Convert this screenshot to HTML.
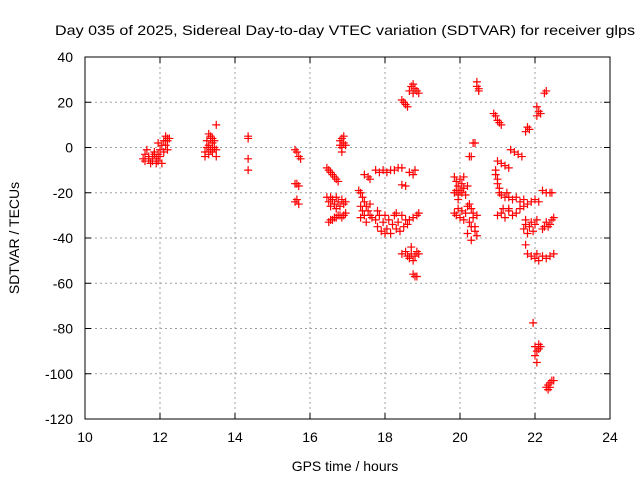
<!DOCTYPE html>
<html><head><meta charset="utf-8"><style>
body{margin:0;background:#fff;}
svg{display:block;font-family:"Liberation Sans",sans-serif;}
</style></head><body>
<svg id="chart" width="640" height="480" viewBox="0 0 640 480">
<rect width="640" height="480" fill="#fff"/>
<g id="grid"></g>
<g id="marks"></g>
<rect x="85" y="57" width="525" height="362" fill="none" stroke="#000" stroke-width="1"/>
<g id="ticks"></g>
<text x="55" y="35" font-size="14" textLength="580" lengthAdjust="spacingAndGlyphs">Day 035 of 2025, Sidereal Day-to-day VTEC variation (SDTVAR) for receiver glps</text>
<text x="345" y="471" font-size="14" text-anchor="middle">GPS time / hours</text>
<text x="0" y="0" font-size="14" text-anchor="middle" transform="translate(19,238) rotate(-90)">SDTVAR / TECUs</text>
</svg>
<script>
const xTicks=[10,12,14,16,18,20,22,24];
const yTicks=[40,20,0,-20,-40,-60,-80,-100,-120];
const sdtvar=[
[11.55,-5],[11.6,-3],[11.6,-6],[11.65,-1],[11.7,-5],[11.75,-7],[11.8,-4],[11.8,-6],[11.85,-2],[11.9,-5],[11.9,-7],[11.95,-3],[11.95,-6],[12.0,-1],[12.0,-4],[12.05,-7],[12.05,1],[12.1,-2],[12.1,3],[11.95,2],[12.15,1],[12.15,5],[12.2,3],[12.2,4],[12.25,4],[12.2,-1],[11.85,-3],[11.7,-4],
[13.2,-2],[13.2,-4],[13.25,0],[13.25,3],[13.3,6],[13.3,1],[13.3,-3],[13.35,4],[13.35,-1],[13.4,2],[13.4,-2],[13.45,0],[13.45,3],[13.5,-4],[13.5,-1],[13.5,10],[13.35,5],[13.4,4],
[14.35,5],[14.35,4],[14.35,-5],[14.35,-10],
[15.6,-1],[15.65,-2],[15.7,-4],[15.75,-5],[15.6,-16],[15.65,-16],[15.7,-17],[15.6,-24],[15.65,-23],[15.7,-25],
[16.45,-9],[16.5,-10],[16.55,-11],[16.6,-12],[16.65,-13],[16.7,-14],[16.75,-15],
[16.45,-22],[16.5,-24],[16.55,-22],[16.6,-23],[16.65,-25],[16.7,-22],[16.75,-24],[16.8,-26],[16.85,-23],[16.9,-25],[16.95,-24],[16.55,-26],[16.7,-27],
[16.5,-33],[16.55,-32],[16.6,-32],[16.65,-31],[16.7,-31],[16.75,-30],[16.8,-30],[16.85,-31],[16.9,-30],[16.95,-29],
[16.8,3],[16.85,0],[16.9,2],[16.85,4],[16.95,1],[16.85,-2],[16.9,5],[16.8,1],
[17.3,-19],[17.35,-20],[17.4,-22],[17.45,-24],[17.35,-26],[17.4,-28],[17.45,-30],[17.5,-26],[17.55,-28],[17.6,-30],[17.35,-31],[17.5,-33],[17.6,-25],[17.65,-31],[17.45,-12],[17.55,-13],[17.6,-14],
[17.75,-10],[17.85,-11],[17.95,-10],[18.05,-11],[18.15,-10],[18.25,-10],[18.35,-9],[18.45,-9],[18.65,-11],[18.75,-12],[18.8,-10],[18.45,-16.5],[18.55,-17],
[17.75,-32],[17.8,-35],[17.85,-30],[17.9,-37],[17.95,-33],[18.0,-30],[18.05,-36],[18.1,-32],[18.15,-38],[18.2,-34],[18.25,-30],[18.3,-36],[18.35,-33],[18.4,-37],[18.45,-30],[18.5,-35],[18.55,-32],[18.6,-34],[17.8,-28],[18.0,-38],[18.3,-29],
[18.65,-32],[18.75,-31],[18.85,-30],[18.9,-29],
[18.45,21],[18.5,20],[18.55,19],[18.6,18],[18.65,25],[18.7,27],[18.75,28],[18.8,26],[18.85,25],[18.9,24],[18.75,24],
[18.45,-47],[18.55,-46],[18.6,-48],[18.65,-49],[18.7,-47],[18.75,-50],[18.8,-48],[18.85,-46],[18.9,-47],[18.7,-44],[18.75,-56],[18.8,-57],[18.85,-57],
[19.85,-13],[19.9,-15],[19.95,-17],[20.0,-14],[20.05,-16],[20.1,-13],[19.9,-19],[19.95,-21],[20.0,-19],[20.05,-20],[20.1,-18],[20.15,-21],[19.85,-20],[20.2,-17],[19.95,-23],[19.85,-29],[19.9,-30],[19.95,-27],[20.0,-31],[20.05,-28],[20.1,-32],[20.15,-29],[20.2,-26],[20.25,-4],[20.3,-4],[20.35,2],[20.4,2],
[20.25,-25],[20.3,-27],[20.35,-29],[20.25,-33],[20.3,-35],[20.35,-31],[20.4,-37],[20.45,-39],[20.3,-41],[20.4,-35],[20.45,-30],[20.2,-38],
[20.45,29],[20.45,27],[20.5,25],[20.5,26],
[20.9,15],[20.95,14],[21.0,12],[21.05,11],[21.1,10],
[21.0,-6],[21.1,-7],[21.2,-8],[21.3,-9],[21.35,-1],[21.45,-2],[21.55,-3],[21.65,-4],
[20.95,-10],[20.95,-12],[21.0,-14],[21.0,-16],[21.05,-18],[21.05,-20],[21.1,-21],[21.2,-22],[21.3,-22],[21.4,-23],[21.5,-22],[21.6,-24],[21.7,-23],[21.8,-25],[21.9,-24],[22.0,-23],[22.1,-24],[21.25,-20],[21.3,-27],
[21.0,-30],[21.1,-29],[21.2,-31],[21.3,-28],[21.4,-30],[21.5,-29],[21.6,-27],[21.7,-26],[21.15,-27],
[22.2,-19],[22.3,-20],[22.4,-20],[22.45,-20],
[22.05,18],[22.1,16],[22.05,14],[22.15,15],[21.8,9],[21.85,8],[21.75,7],[22.3,25],[22.25,24],
[21.7,-36],[21.75,-34],[21.8,-38],[21.85,-35],[21.9,-33],[21.95,-37],[22.0,-34],[22.05,-32],[21.75,-32],
[22.2,-36],[22.25,-35],[22.3,-33],[22.4,-34],[22.45,-32],[22.5,-31],[22.35,-35],
[21.75,-43],[21.8,-47],[21.9,-48],[22.0,-49],[22.05,-47],[22.1,-50],[22.3,-49],[22.4,-48],[22.5,-47],[22.2,-48],
[21.95,-77.5],[22.0,-88],[22.05,-90],[22.1,-89],[22.0,-92],[22.05,-95],[22.1,-87],[22.15,-88],
[22.3,-106],[22.35,-105],[22.4,-104],[22.45,-103],[22.5,-103],[22.35,-107],[22.4,-106]
];
const NS='http://www.w3.org/2000/svg';
const X0=85,X1=610,Y0=419,Y1=57;
function xs(v){return X0+(v-10)/(24-10)*(X1-X0);}
function ys(v){return Y0-(v+120)/(40+120)*(Y0-Y1);}
function mk(tag,attrs,parent){const e=document.createElementNS(NS,tag);for(const k in attrs)e.setAttribute(k,attrs[k]);parent.appendChild(e);return e;}
const grid=document.getElementById('grid'),ticks=document.getElementById('ticks'),marks=document.getElementById('marks');
xTicks.forEach(t=>{
  const x=xs(t);
  if(t>10&&t<24){const g=mk('line',{x1:x,x2:x,y1:Y0,y2:Y1,stroke:'#a0a0a0','stroke-dasharray':'2,3'},grid);
  
  }
  mk('line',{x1:x,x2:x,y1:Y0,y2:Y0-6,stroke:'#000'},ticks);
  mk('line',{x1:x,x2:x,y1:Y1,y2:Y1+6,stroke:'#000'},ticks);
  const l=mk('text',{x:x,y:Y0+23,'font-size':14,'text-anchor':'middle'},ticks);
  l.textContent=t;
  
  
});
yTicks.forEach(t=>{
  const y=ys(t);
  if(t>-120&&t<40){const g=mk('line',{x1:X0,x2:X1,y1:y,y2:y,stroke:'#a0a0a0','stroke-dasharray':'2,3'},grid);
  
  }
  mk('line',{x1:X0,x2:X0+6,y1:y,y2:y,stroke:'#000'},ticks);
  mk('line',{x1:X1,x2:X1-6,y1:y,y2:y,stroke:'#000'},ticks);
  const l=mk('text',{x:X0-12,y:y+5,'font-size':14,'text-anchor':'end'},ticks);
  l.textContent=t;
  
  
});
sdtvar.forEach(p=>{
  const x=xs(p[0]),y=ys(p[1]);
  const m=mk('path',{d:`M${x-4},${y}H${x+4}M${x},${y-4}V${y+4}`,stroke:'#ff0000','stroke-width':1.2,fill:'none'},marks);
  
  
});
</script>
</body></html>
